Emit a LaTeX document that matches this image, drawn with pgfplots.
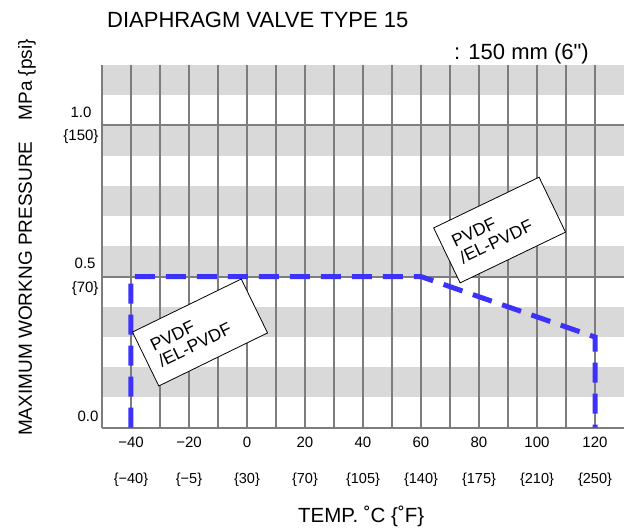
\documentclass[border=0pt]{standalone}
\usepackage{fontspec}
\setmainfont{Liberation Sans}
\newfontfamily\plainq[Ligatures=TeXOff]{Liberation Sans}
\usepackage{pgfplots}
\pgfplotsset{compat=1.18}
\definecolor{bandgray}{RGB}{217,217,217}
\definecolor{gridgray}{RGB}{125,125,125}
\definecolor{lineblue}{RGB}{60,50,250}
\begin{document}
\begin{tikzpicture}
\begin{axis}[
  set layers,
  at={(0pt,0pt)}, anchor=south west,
  scale only axis, width=522pt, height=362.7pt,
  xmin=-50, xmax=130, ymin=0, ymax=1.2,
  axis x line*=bottom, axis y line*=left,
  axis line style={gridgray, line width=2pt, -},
  xtick={-40,-30,...,120},
  xticklabels={−40,,−20,,0,,20,,40,,60,,80,,100,,120},
  xticklabel style={font=\fontsize{15}{16}\selectfont, anchor=base, yshift=-19.3pt},
  extra x ticks={-40,-20,0,20,40,60,80,100,120},
  extra x tick labels={\{−40\},\{−5\},\{30\},\{70\},\{105\},\{140\},\{175\},\{210\},\{250\}},
  extra x tick style={xticklabel style={yshift=-36pt, font=\fontsize{14.5}{16}\selectfont}},
  ytick={0,0.5,1},
  yticklabels={{0.0\\\phantom{0}},{0.5\\\{70\}},{1.0\\\{150\}}},
  yticklabel style={font=\fontsize{15}{23.5}\selectfont, align=center},
  xmajorgrids, ymajorgrids,
  grid style={gridgray, line width=2pt},
  major grid style={gridgray, line width=2pt},
  major tick length=0pt,
  tick style={draw=none},
]
\addplot[on layer=axis background, fill=bandgray, draw=none] coordinates {(-50,0.1) (130,0.1) (130,0.2) (-50,0.2)} -- cycle;
\addplot[on layer=axis background, fill=bandgray, draw=none] coordinates {(-50,0.3) (130,0.3) (130,0.4) (-50,0.4)} -- cycle;
\addplot[on layer=axis background, fill=bandgray, draw=none] coordinates {(-50,0.5) (130,0.5) (130,0.6) (-50,0.6)} -- cycle;
\addplot[on layer=axis background, fill=bandgray, draw=none] coordinates {(-50,0.7) (130,0.7) (130,0.8) (-50,0.8)} -- cycle;
\addplot[on layer=axis background, fill=bandgray, draw=none] coordinates {(-50,0.9) (130,0.9) (130,1.0) (-50,1.0)} -- cycle;
\addplot[on layer=axis background, fill=bandgray, draw=none] coordinates {(-50,1.1) (130,1.1) (130,1.2) (-50,1.2)} -- cycle;
\addplot[lineblue, line width=5pt, dash pattern=on 20pt off 11pt] coordinates {(-40,0) (-40,0.5) (60,0.5) (120,0.3) (120,0)};
\node[draw=black, line width=0.8pt, fill=white, rotate=26, minimum width=121pt, minimum height=60pt, text width=99pt, inner xsep=11pt, inner ysep=0pt, align=left, font=\fontsize{17.5}{18}\selectfont] at (axis cs:-16.2,0.315) {PVDF\\/EL-PVDF};
\node[draw=black, line width=0.8pt, fill=white, rotate=25.7, minimum width=117pt, minimum height=61pt, text width=95pt, inner xsep=11pt, inner ysep=0pt, align=left, font=\fontsize{17.5}{18}\selectfont] at (axis cs:87.1,0.654) {PVDF\\/EL-PVDF};
\end{axis}
\node[anchor=base west, inner sep=0pt, font=\fontsize{22}{26}\selectfont] at (5pt,400.4pt) {DIAPHRAGM VALVE TYPE 15};
\node[anchor=base west, inner sep=0pt, font=\fontsize{22}{26}\selectfont] at (352pt,367.7pt) {: 150 mm (6{\plainq "})};
\node[anchor=base, rotate=90, inner sep=0pt, font=\fontsize{19}{22}\selectfont] at (-70pt,190.2pt) {MAXIMUM WORKNG PRESSURE\hspace{1.1em}MPa \{psi\}};
\node[anchor=base west, inner sep=0pt, font=\fontsize{20.5}{24}\selectfont] at (196pt,-94.3pt) {TEMP. ˚C \{˚F\}};
\pgfresetboundingbox
\path[use as bounding box] (-102pt,-100.3pt) rectangle (525pt,427.7pt);
\end{tikzpicture}
\end{document}
